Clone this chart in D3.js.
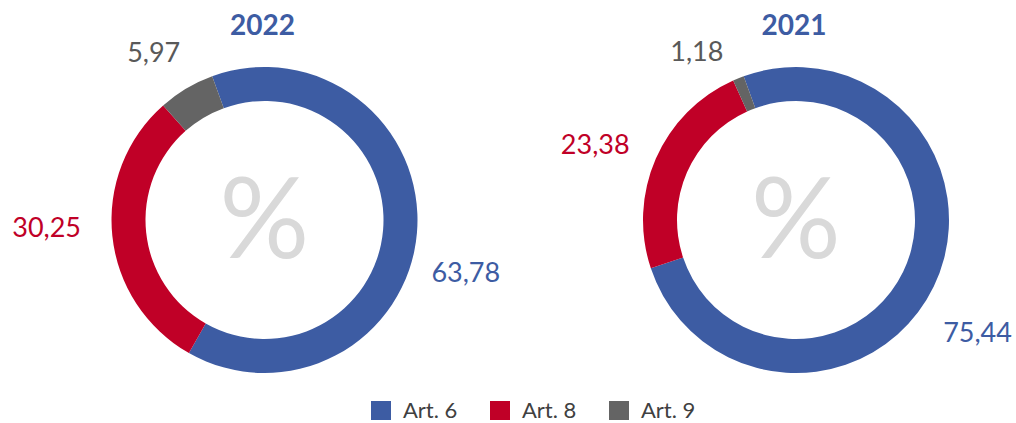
<!DOCTYPE html>
<html><head><meta charset="utf-8">
<script src="https://cdn.jsdelivr.net/npm/d3@7"></script>
<style>html,body{margin:0;padding:0;background:#fff;}svg{display:block;}</style>
</head><body>
<svg id="chart" width="1016" height="423"></svg>
<script>
// ---- data ----
const categories = ["Art. 6", "Art. 8", "Art. 9"];
const years = ["2022", "2021"];
const values2022 = [63.78, 30.25, 5.97];
const values2021 = [75.44, 23.38, 1.18];
const colors = ["#3D5CA3", "#C00027", "#646464"];
const labelColors = ["#3D5CA3", "#C00027", "#595959"];

// ---- layout ----
const W = 1016, H = 423;
const outerR = 153, innerR = 119;
const centers = [[264.5, 220], [796, 220]];
const labelR = 205;
// small nudges that mimic the hand-placed labels of the original
const labelNudge = [
  [[-3, 35], [-14, -14], [-6, 9]],
  [[-3, 23], [-13, 7], [-22, 21]]
];
const font = "Lato, 'Open Sans', sans-serif";
const fmt = v => d3.format(".2f")(v).replace(".", ",");

const svg = d3.select("#chart");
const pie = d3.pie().sort(null).value(d => d)
  .startAngle(-20 * Math.PI / 180).endAngle(340 * Math.PI / 180);
const arc = d3.arc().innerRadius(innerR).outerRadius(outerR);

[values2022, values2021].forEach((vals, ci) => {
  const g = svg.append("g").attr("transform", `translate(${centers[ci][0]},${centers[ci][1]})`);
  const arcs = pie(vals);
  g.selectAll("path").data(arcs).join("path")
    .attr("d", arc).attr("fill", (d, i) => colors[i]);
  // centre symbol
  g.append("text").attr("x", 0).attr("y", 38).attr("text-anchor", "middle")
    .attr("font-family", font).attr("font-size", 112).attr("fill", "#D9D9D9").text("%");
  // title
  g.append("text").attr("x", -2).attr("y", -185).attr("text-anchor", "middle")
    .attr("font-family", font).attr("font-weight", "bold").attr("font-size", 28)
    .attr("fill", "#3D5CA3").text(years[ci]);
  // labels
  g.selectAll("text.lbl").data(arcs).join("text").attr("class", "lbl")
    .attr("x", (d, i) => Math.sin((d.startAngle + d.endAngle) / 2) * labelR + labelNudge[ci][i][0])
    .attr("y", (d, i) => -Math.cos((d.startAngle + d.endAngle) / 2) * labelR + labelNudge[ci][i][1] + 9.5)
    .attr("text-anchor", "middle").attr("font-family", font).attr("font-size", 27)
    .attr("fill", (d, i) => labelColors[i]).text(d => fmt(d.data));
});

// legend
const legendX = [371, 490, 609];
const lg = svg.append("g");
categories.forEach((c, i) => {
  lg.append("rect").attr("x", legendX[i]).attr("y", 401).attr("width", 20).attr("height", 19).attr("fill", colors[i]);
  lg.append("text").attr("x", legendX[i] + 32).attr("y", 417.5)
    .attr("font-family", font).attr("font-size", 22).attr("fill", "#404040").text(c);
});
</script>
</body></html>
